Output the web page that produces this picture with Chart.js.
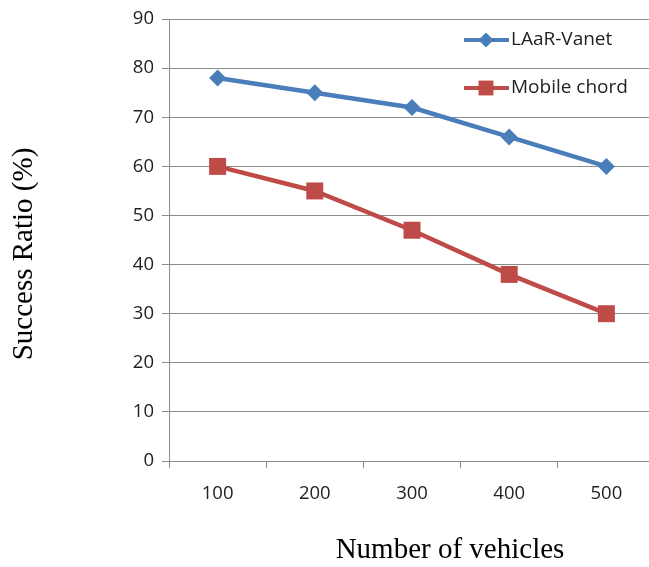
<!DOCTYPE html>
<html>
<head>
<meta charset="utf-8">
<script src="https://cdn.jsdelivr.net/npm/chart.js@4/dist/chart.umd.min.js"></script>
<style>
  html, body { margin: 0; padding: 0; background: #fff; overflow: hidden; }
  #wrap { width: 667px; height: 567px; }
</style>
</head>
<body>
<div id="wrap"><canvas id="lineChart" width="667" height="567"></canvas></div>
<script>
// data
var vehicles = ['100', '200', '300', '400', '500'];
var laarVanet = [78, 75, 72, 66, 60];
var mobileChord = [60, 55, 47, 38, 30];
var yTicks = [0, 10, 20, 30, 40, 50, 60, 70, 80, 90];

var blue = '#4a7ebb';
var red = '#be4b48';
var gridColor = '#8c8c8c';

// legend + axis titles drawn at fixed spots like the original
var extras = {
    id: 'extras',
    afterDraw: function (chart) {
        var ctx = chart.ctx;
        ctx.save();
        var items = [
            {label: 'LAaR-Vanet', color: blue, style: 'rectRot', r: 7.5, y: 40},
            {label: 'Mobile chord', color: red, style: 'rect', r: 10.5, y: 88}
        ];
        items.forEach(function (it) {
            ctx.strokeStyle = it.color;
            ctx.lineWidth = 4;
            ctx.beginPath();
            ctx.moveTo(464, it.y);
            ctx.lineTo(509, it.y);
            ctx.stroke();
            ctx.fillStyle = it.color;
            Chart.helpers.drawPoint(ctx, {pointStyle: it.style, radius: it.r, borderWidth: 0}, 486, it.y);
            ctx.fillStyle = '#222';
            ctx.font = '19px "Open Sans", sans-serif';
            ctx.textAlign = 'left';
            ctx.textBaseline = 'middle';
            ctx.fillText(it.label, 511, it.y);
        });
        ctx.fillStyle = '#000';
        ctx.font = '29px "Liberation Serif", serif';
        ctx.textAlign = 'center';
        ctx.textBaseline = 'middle';
        ctx.fillText('Number of vehicles', 450, 550);
        ctx.translate(24, 254);
        ctx.rotate(-Math.PI / 2);
        ctx.fillText('Success Ratio (%)', 0, 0);
        ctx.restore();
    }
};

var lineChart = new Chart(document.getElementById('lineChart').getContext('2d'), {
    type: 'line',
    data: {
        labels: vehicles,
        datasets: [
            {
                label: 'LAaR-Vanet',
                data: laarVanet,
                borderColor: blue,
                backgroundColor: blue,
                borderWidth: 4.5,
                pointStyle: 'rectRot',
                pointRadius: 8.5,
                pointBorderWidth: 0,
                tension: 0
            },
            {
                label: 'Mobile chord',
                data: mobileChord,
                borderColor: red,
                backgroundColor: red,
                borderWidth: 4.5,
                pointStyle: 'rect',
                pointRadius: 12,
                pointBorderWidth: 0,
                tension: 0
            }
        ]
    },
    options: {
        responsive: false,
        animation: false,
        layout: {padding: {top: 18, right: 1, left: 0, bottom: 0}},
        plugins: {
            legend: {display: false},
            tooltip: {enabled: false}
        },
        scales: {
            x: {
                offset: true,
                grid: {
                    display: true,
                    offset: true,
                    drawOnChartArea: false,
                    drawTicks: true,
                    tickLength: 7,
                    color: gridColor
                },
                border: {color: gridColor, width: 1},
                ticks: {
                    color: '#222',
                    font: {family: 'Open Sans', size: 18.5},
                    padding: 15
                },
                afterFit: function (scale) {
                    scale.height = 106;
                    scale.paddingLeft = 0;
                    scale.paddingRight = 0;
                }
            },
            y: {
                min: 0,
                max: 90,
                afterBuildTicks: function (scale) {
                    scale.ticks = yTicks.map(function (v) { return {value: v}; });
                },
                grid: {
                    color: gridColor,
                    tickLength: 7,
                    lineWidth: 1
                },
                border: {color: gridColor, width: 1},
                ticks: {
                    color: '#222',
                    font: {family: 'Open Sans', size: 18.5},
                    padding: 8
                },
                afterFit: function (scale) { scale.width = 169; }
            }
        }
    },
    plugins: [extras]
});
</script>
</body>
</html>
